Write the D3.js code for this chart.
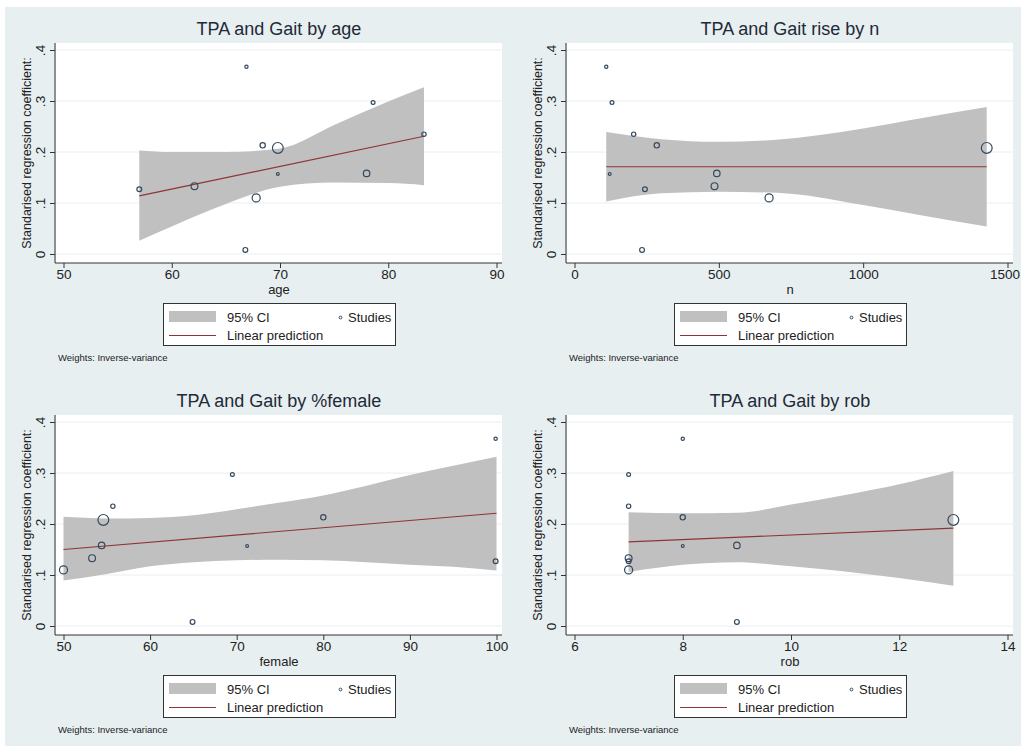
<!DOCTYPE html>
<html>
<head>
<meta charset="utf-8">
<script src="https://cdn.jsdelivr.net/npm/d3@7"></script>
<style>
  body { margin: 0; background: #fff; }
  text { font-family: "Liberation Sans", Arial, sans-serif; }
</style>
</head>
<body>
<svg width="1021" height="746"></svg>
<script>
// 11 studies, same order in every array
const studyCoef   = [0.367, 0.297, 0.235, 0.213, 0.208, 0.158, 0.157, 0.133, 0.127, 0.110, 0.008];
const studyAge    = [66.9, 78.6, 83.3, 68.4, 69.8, 78.0, 69.8, 62.1, 57.0, 67.8, 66.8];
const studyN      = [110, 130, 205, 285, 1428, 493, 122, 485, 244, 674, 234];
const studyFemale = [99.9, 69.5, 55.7, 80.0, 54.6, 54.4, 71.2, 53.3, 99.9, 50.0, 64.9];
const studyRob    = [8, 7, 7, 8, 13, 9, 8, 7, 7, 7, 9];
const studyWeight = [2.3, 3.2, 4, 6, 25, 9, 1.7, 10, 5, 14, 5];

// fitted line ends and 95% CI
const ageFitX = [57, 83.3],  ageFitY = [0.114, 0.231];
const ageCiX  = [57, 60, 65, 70, 75, 80, 83.3];
const ageCiHi = [0.203, 0.200, 0.200, 0.207, 0.253, 0.299, 0.327];
const ageCiLo = [0.026, 0.054, 0.098, 0.132, 0.140, 0.139, 0.135];

const nFitX = [110, 1428], nFitY = [0.171, 0.171];
const nCiX  = [110, 300, 500, 700, 1000, 1200, 1428];
const nCiHi = [0.239, 0.225, 0.220, 0.224, 0.246, 0.266, 0.288];
const nCiLo = [0.103, 0.119, 0.122, 0.120, 0.096, 0.076, 0.054];

const femFitX = [50, 100], femFitY = [0.150, 0.221];
const femCiX  = [50, 55, 60, 65, 70, 75, 80, 85, 90, 95, 100];
const femCiHi = [0.214, 0.211, 0.212, 0.217, 0.229, 0.242, 0.256, 0.275, 0.296, 0.314, 0.332];
const femCiLo = [0.089, 0.102, 0.117, 0.125, 0.129, 0.130, 0.129, 0.125, 0.120, 0.116, 0.109];

const robFitX = [7, 13], robFitY = [0.165, 0.192];
const robCiX  = [7, 8, 9, 10, 11, 12, 13];
const robCiHi = [0.223, 0.221, 0.222, 0.238, 0.257, 0.278, 0.304];
const robCiLo = [0.106, 0.120, 0.125, 0.117, 0.107, 0.094, 0.079];

const yTicks = [0, 0.1, 0.2, 0.3, 0.4];
const yTickLabels = ["0", ".1", ".2", ".3", ".4"];

const panels = [
  {title: "TPA and Gait by age", xlab: "age", x: studyAge, dom: [50, 90], ticks: [50, 60, 70, 80, 90],
   fitX: ageFitX, fitY: ageFitY, ciX: ageCiX, ciHi: ageCiHi, ciLo: ageCiLo, dx: 0, dy: 0},
  {title: "TPA and Gait rise by n", xlab: "n", x: studyN, dom: [0, 1500], ticks: [0, 500, 1000, 1500],
   fitX: nFitX, fitY: nFitY, ciX: nCiX, ciHi: nCiHi, ciLo: nCiLo, dx: 511, dy: 0},
  {title: "TPA and Gait by %female", xlab: "female", x: studyFemale, dom: [50, 100], ticks: [50, 60, 70, 80, 90, 100],
   fitX: femFitX, fitY: femFitY, ciX: femCiX, ciHi: femCiHi, ciLo: femCiLo, dx: 0, dy: 372},
  {title: "TPA and Gait by rob", xlab: "rob", x: studyRob, dom: [6, 14], ticks: [6, 8, 10, 12, 14],
   fitX: robFitX, fitY: robFitY, ciX: robCiX, ciHi: robCiHi, ciLo: robCiLo, dx: 511, dy: 372}
];

const svg = d3.select("svg");
const bg = "#e8eff1";
svg.append("rect").attr("x", 5).attr("y", 7).attr("width", 1016).attr("height", 739).attr("fill", bg);

const rScale = d3.scaleSqrt().domain([0, 25]).range([0, 5.4]);
const y = d3.scaleLinear().domain([0, 0.4]).range([254, 50]);

// plot area, panel-relative
const plot = {left: 56, right: 502, top: 43, bottom: 263};

panels.forEach(p => {
  const g = svg.append("g").attr("transform", `translate(${p.dx},${p.dy})`);
  const x = d3.scaleLinear().domain(p.dom).range([63.5, 496.5]);

  g.append("rect").attr("x", plot.left).attr("y", plot.top)
    .attr("width", plot.right - plot.left).attr("height", plot.bottom - plot.top).attr("fill", "#fff");

  // grid
  g.selectAll(".grid").data(yTicks).enter().append("line")
    .attr("x1", plot.left).attr("x2", plot.right)
    .attr("y1", d => y(d)).attr("y2", d => y(d))
    .attr("stroke", "#eaeff1").attr("stroke-width", 1);

  // CI band
  const band = p.ciX.map((v, i) => ({x: v, lo: p.ciLo[i], hi: p.ciHi[i]}));
  g.append("path").datum(band)
    .attr("d", d3.area().curve(d3.curveMonotoneX)
      .x(d => x(d.x)).y0(d => y(d.lo)).y1(d => y(d.hi)))
    .attr("fill", "#c0c0c0");

  // fit line
  g.append("path").datum(p.fitX.map((v, i) => [v, p.fitY[i]]))
    .attr("d", d3.line().x(d => x(d[0])).y(d => y(d[1])))
    .attr("fill", "none").attr("stroke", "#8e3434").attr("stroke-width", 1.1);

  // studies
  g.selectAll(".study").data(studyCoef).enter().append("circle")
    .attr("cx", (d, i) => x(p.x[i])).attr("cy", d => y(d))
    .attr("r", (d, i) => rScale(studyWeight[i]))
    .attr("fill", "none").attr("stroke", "#34495e").attr("stroke-width", 1.2);

  // axes
  const xAxis = g.append("g").attr("transform", `translate(0,${plot.bottom})`)
    .call(d3.axisBottom(x).tickValues(p.ticks).tickSize(5).tickSizeOuter(0).tickFormat(d3.format("d")));
  xAxis.select(".domain").attr("d", `M${plot.left - 1},0H${plot.right}`);
  xAxis.selectAll("line, path").attr("stroke", "#333");
  xAxis.selectAll("text").attr("y", 16).attr("dy", null)
    .attr("font-size", 13.5).attr("fill", "#222")
    .attr("dx", d => d === 1500 ? -3 : null);

  const yAxis = g.append("g").attr("transform", `translate(${plot.left - 1},0)`)
    .call(d3.axisLeft(y).tickValues(yTicks).tickSize(5).tickSizeOuter(0)
      .tickFormat((d, i) => yTickLabels[i]));
  yAxis.select(".domain").attr("d", `M0,${plot.top}V${plot.bottom}`);
  yAxis.selectAll("line, path").attr("stroke", "#333");
  yAxis.selectAll("text").attr("x", null).attr("dy", null)
    .attr("transform", "translate(-10,0) rotate(-90)")
    .attr("text-anchor", "middle").attr("font-size", 13.5).attr("fill", "#222");

  // titles
  g.append("text").attr("x", (plot.left + plot.right) / 2).attr("y", 35)
    .attr("text-anchor", "middle").attr("font-size", 18).attr("fill", "#1e2a38").text(p.title);
  g.append("text").attr("x", (plot.left + plot.right) / 2).attr("y", 294)
    .attr("text-anchor", "middle").attr("font-size", 13).attr("fill", "#222").text(p.xlab);
  g.append("text").attr("transform", `translate(31,${(plot.top + plot.bottom) / 2}) rotate(-90)`)
    .attr("text-anchor", "middle").attr("font-size", 12.5).attr("fill", "#222")
    .text("Standarised regression coefficient:");

  // legend
  const lg = g.append("g");
  lg.append("rect").attr("x", 163.5).attr("y", 303.5).attr("width", 232).attr("height", 42)
    .attr("fill", "#fff").attr("stroke", "#333").attr("stroke-width", 1);
  lg.append("rect").attr("x", 169).attr("y", 311).attr("width", 47).attr("height", 11).attr("fill", "#c0c0c0");
  lg.append("text").attr("x", 227).attr("y", 322).attr("font-size", 13).attr("fill", "#222").text("95% CI");
  lg.append("circle").attr("cx", 340.5).attr("cy", 317.5).attr("r", 1.4)
    .attr("fill", "none").attr("stroke", "#34495e").attr("stroke-width", 1);
  lg.append("text").attr("x", 348).attr("y", 322).attr("font-size", 13).attr("fill", "#222").text("Studies");
  lg.append("line").attr("x1", 169).attr("x2", 216).attr("y1", 335.5).attr("y2", 335.5)
    .attr("stroke", "#8e3434").attr("stroke-width", 1.1);
  lg.append("text").attr("x", 227).attr("y", 340).attr("font-size", 13).attr("fill", "#222").text("Linear prediction");

  g.append("text").attr("x", 58).attr("y", 361).attr("font-size", 9.5).attr("fill", "#222")
    .text("Weights: Inverse-variance");
});
</script>
</body>
</html>
